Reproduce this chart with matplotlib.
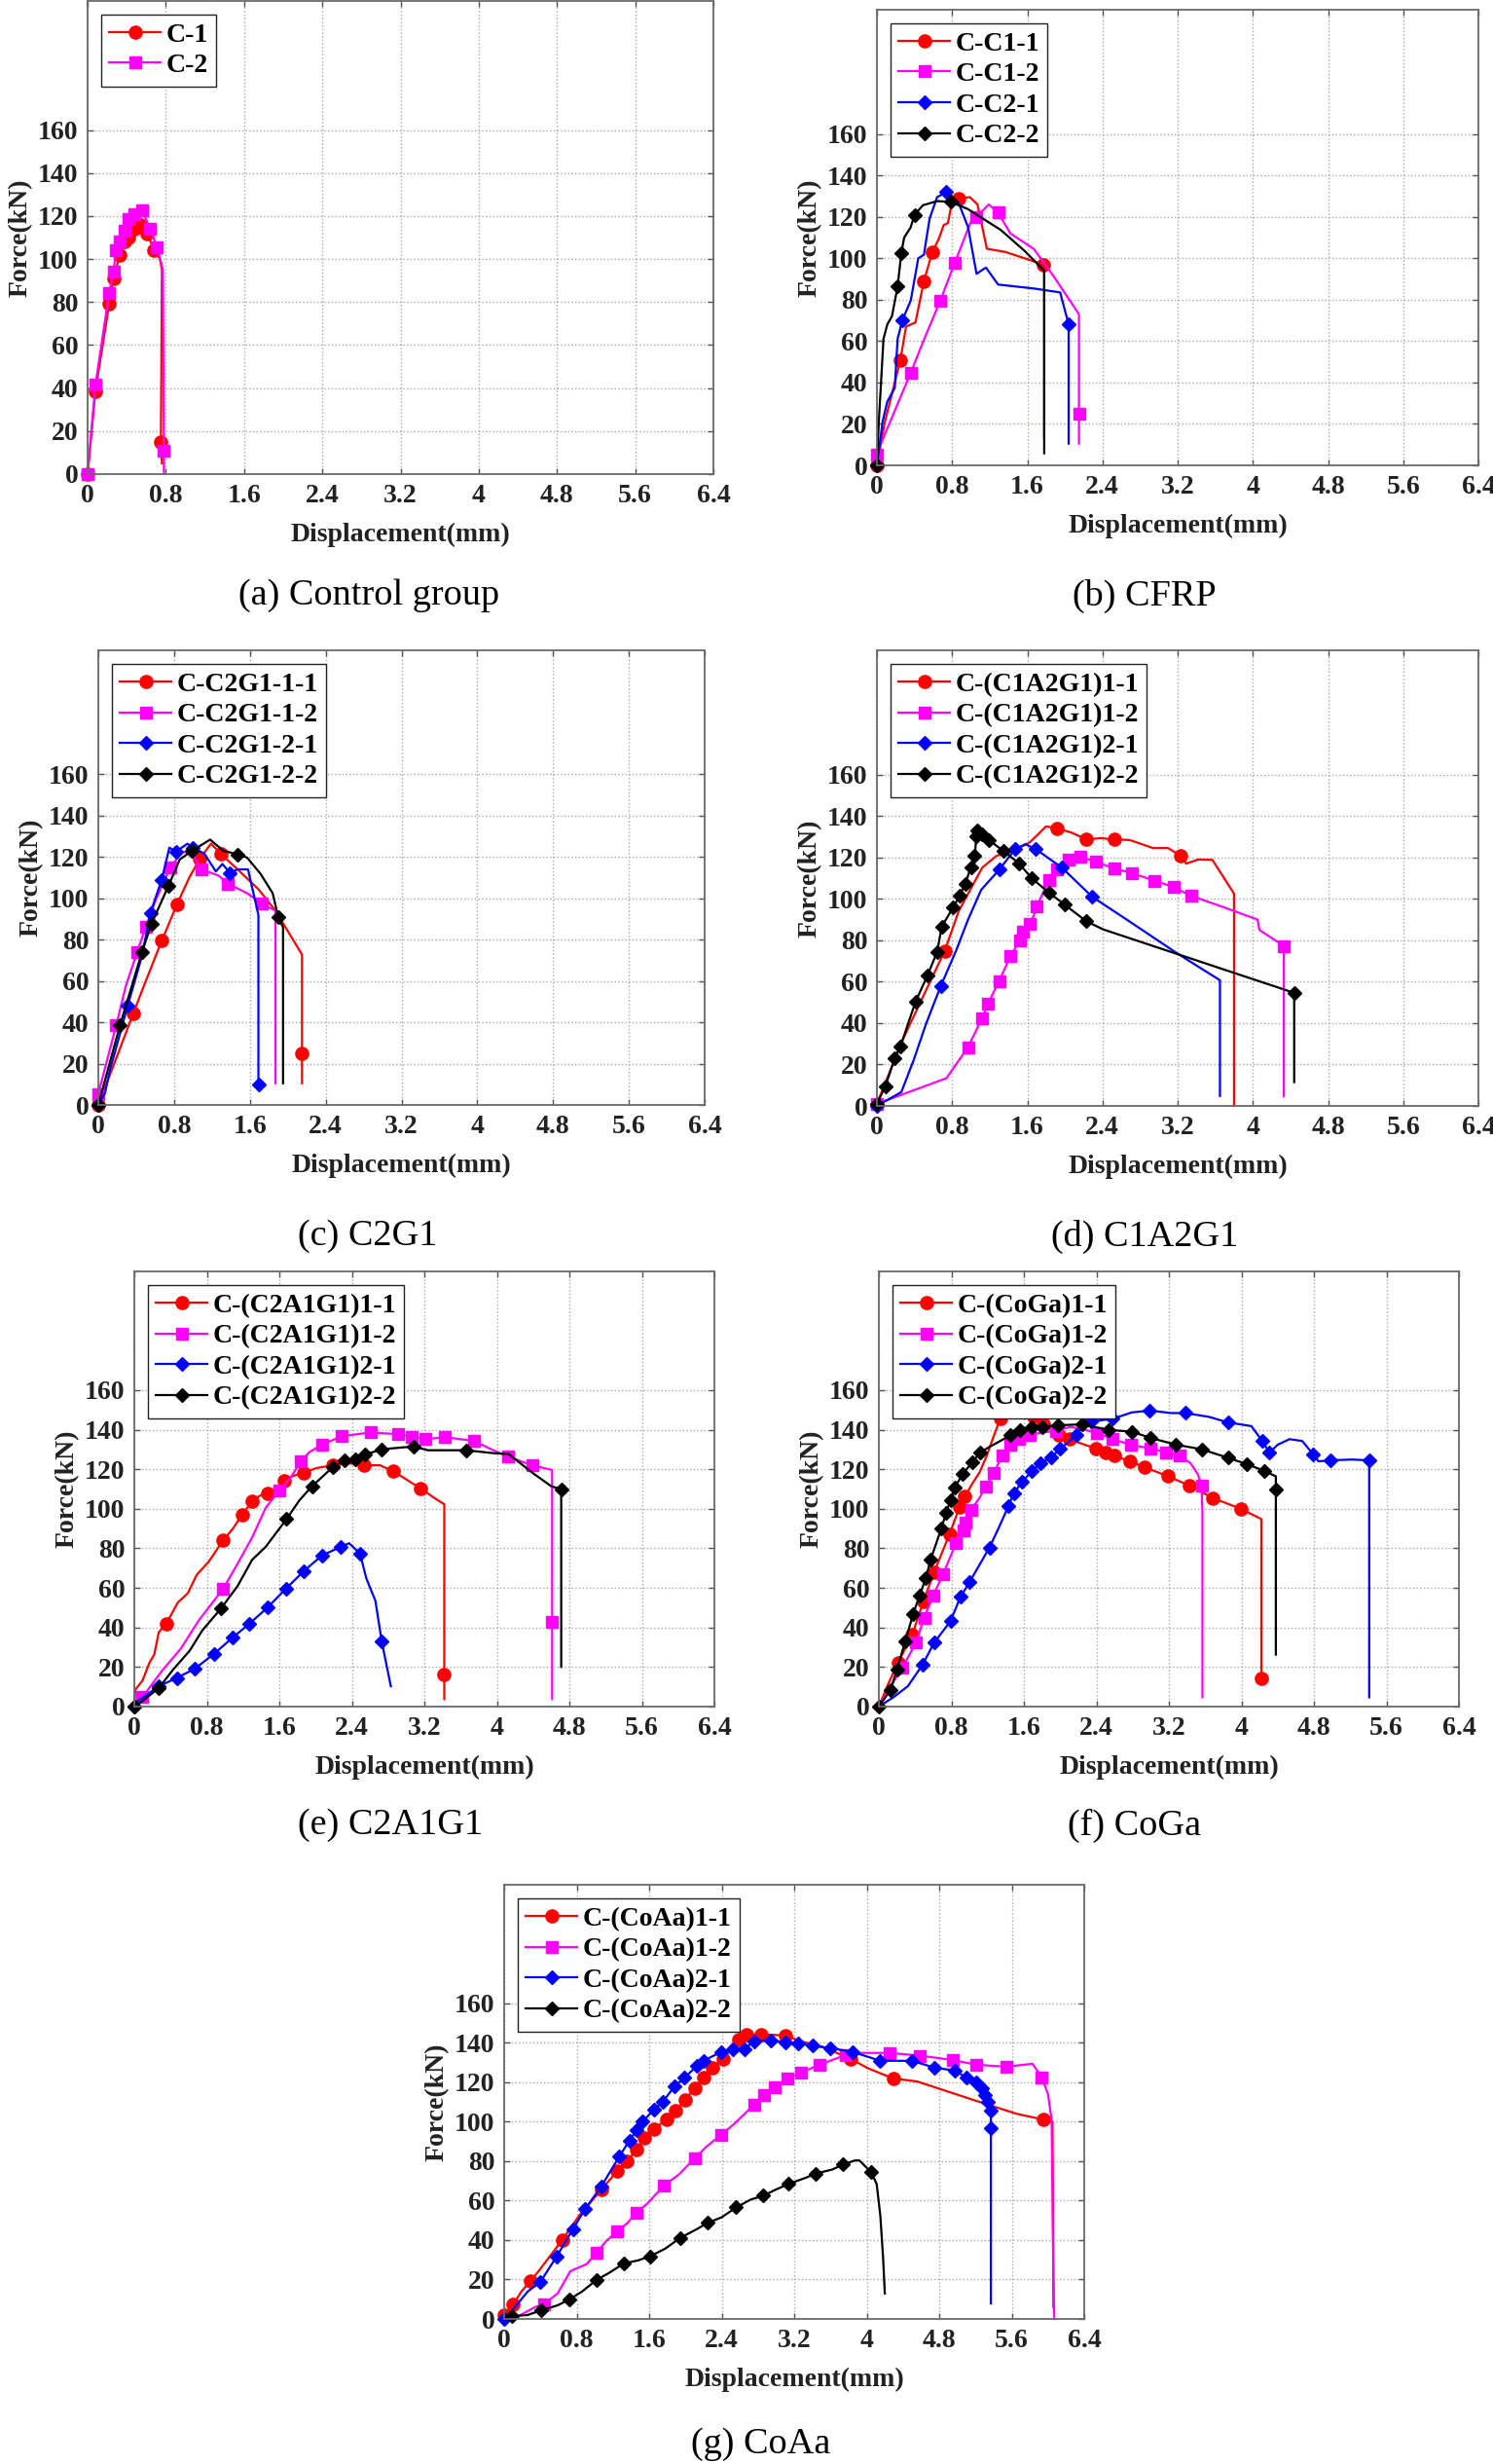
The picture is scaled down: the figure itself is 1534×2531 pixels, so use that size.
import numpy as np
import matplotlib.pyplot as plt

plt.rcParams['font.family'] = ['Liberation Serif', 'DejaVu Serif']
plt.rcParams['font.weight'] = 'bold'
plt.rcParams['axes.labelweight'] = 'bold'

# ---------------- data (displacement mm, force kN) ----------------
# (a) control group
a1_x = [0, 0.08, 0.22, 0.265, 0.33, 0.38, 0.42, 0.48, 0.54, 0.61, 0.68, 0.74, 0.76, 0.75, 0.76]
a1_y = [0, 38.7, 79, 91, 102, 108, 110, 114, 116, 112, 104, 100, 95, 15, 5]
a1_m = [0, 1, 2, 3, 4, 5, 6, 7, 8, 9, 10, 13]
a2_x = [0, 0.08, 0.22, 0.265, 0.29, 0.33, 0.38, 0.42, 0.48, 0.56, 0.64, 0.71, 0.77, 0.78, 0.78]
a2_y = [0, 41.5, 84, 94, 104, 108, 113, 118.5, 121, 122.5, 114, 105.6, 95, 10.7, 0]
a2_m = [0, 1, 2, 3, 4, 5, 6, 7, 8, 9, 10, 11, 13]

# (b) CFRP
b1_x = [0, 0.085, 0.19, 0.25, 0.31, 0.41, 0.5, 0.59, 0.66, 0.71, 0.755, 0.79, 0.87, 0.99, 1.07, 1.17, 1.37, 1.57, 1.77, 1.78, 1.78]
b1_y = [0, 21, 40, 51, 67, 69, 89, 103, 109.5, 116, 117, 125, 129, 129.5, 126, 104.6, 103, 100, 97, 94, 13.4]
b1_m = [0, 3, 6, 7, 12, 18]
b2_x = [0, 0.02, 0.36, 0.49, 0.675, 0.83, 1.02, 1.06, 1.19, 1.29, 1.42, 1.67, 1.87, 2.15, 2.15, 2.15]
b2_y = [5, 8, 44.7, 59.5, 79.6, 98, 120, 120, 126, 122, 112, 104.5, 92, 73, 25, 10.5]
b2_m = [0, 2, 4, 5, 7, 9, 14]
b3_x = [0, 0.06, 0.11, 0.19, 0.22, 0.27, 0.36, 0.44, 0.5, 0.56, 0.64, 0.74, 0.87, 0.97, 1.06, 1.16, 1.29, 1.67, 1.95, 2.04, 2.04]
b3_y = [0, 21, 30.7, 37.4, 61, 70, 79.6, 100, 101.7, 119, 129.5, 132, 126.6, 115, 92.5, 95.5, 87.3, 85.4, 83.5, 68, 10.5]
b3_m = [0, 5, 11, 19]
b4_x = [0, 0.02, 0.07, 0.11, 0.16, 0.22, 0.26, 0.29, 0.36, 0.40, 0.49, 0.64, 0.79, 0.97, 1.07, 1.32, 1.57, 1.78, 1.78]
b4_y = [0, 21, 61, 68, 72, 86.3, 102.6, 110, 115, 121, 125.6, 127.6, 127.2, 123.7, 120.8, 113.6, 103.6, 94, 5.8]
b4_m = [0, 5, 6, 9, 12]

# (c) C2G1
c1_x = [0, 0.16, 0.37, 0.51, 0.67, 0.83, 0.96, 1.07, 1.19, 1.29, 1.47, 1.69, 1.87, 2.15, 2.15, 2.15]
c1_y = [0, 19, 44.4, 61, 79.5, 97, 110, 119, 126.5, 121.6, 114, 104.4, 94, 72.8, 25, 10.5]
c1_m = [0, 2, 4, 5, 7, 9, 14]
c2_x = [0, 0.19, 0.29, 0.41, 0.5, 0.61, 0.76, 0.89, 0.99, 1.09, 1.27, 1.37, 1.57, 1.73, 1.87, 1.87]
c2_y = [5.4, 38.7, 57.5, 74, 86, 99.6, 115, 122.6, 121.6, 114, 111, 107, 102.5, 97.3, 94, 10.5]
c2_m = [0, 1, 3, 4, 6, 9, 11, 13]
c3_x = [0, 0.07, 0.12, 0.31, 0.46, 0.55, 0.67, 0.75, 0.82, 0.94, 1.0, 1.12, 1.24, 1.31, 1.39, 1.47, 1.58, 1.69, 1.69]
c3_y = [0, 5.7, 16.3, 48, 72, 93, 109, 124.5, 122.6, 126.4, 124.5, 121.6, 113, 116.6, 112.3, 114, 114, 92, 10]
c3_m = [0, 3, 5, 6, 8, 10, 14, 18]
c4_x = [0, 0.23, 0.46, 0.56, 0.74, 0.86, 0.99, 1.18, 1.32, 1.47, 1.57, 1.71, 1.84, 1.9, 1.95, 1.95]
c4_y = [0, 38.7, 73.8, 87.5, 106, 118.8, 123, 128.4, 123, 121.3, 119.7, 112, 102.5, 90.8, 86, 10.5]
c4_m = [0, 1, 2, 3, 4, 6, 9, 13]

# (d) C1A2G1
d1_x = [0, 0.11, 0.26, 0.52, 0.72, 0.87, 1.0, 1.12, 1.27, 1.47, 1.63, 1.8, 1.92, 2.07, 2.23, 2.38, 2.53, 2.69, 2.94, 3.1, 3.23, 3.29, 3.42, 3.57, 3.8, 3.8]
d1_y = [1, 13.4, 30.6, 55.6, 74.7, 94, 105, 115, 120.7, 123.5, 127.4, 135, 134, 132, 128.7, 129.3, 128.7, 128.4, 124.5, 124.5, 120.7, 117, 119, 118.8, 102.5, 0]
d1_m = [4, 12, 14, 16, 20]
d2_x = [0, 0.74, 0.97, 1.12, 1.18, 1.3, 1.42, 1.52, 1.55, 1.63, 1.67, 1.7, 1.83, 1.92, 2.04, 2.16, 2.33, 2.53, 2.71, 2.95, 3.16, 3.34, 3.7, 4.05, 4.07, 4.33, 4.33]
d2_y = [1, 13.4, 28.4, 42.5, 49.2, 60.3, 72.2, 79.9, 84.3, 88.1, 92, 96.2, 109.2, 114, 118.8, 120.3, 117.8, 114.6, 112.5, 108.8, 105.7, 101.5, 95.8, 90, 85, 77.2, 4.8]
d2_m = [0, 2, 3, 4, 5, 6, 7, 8, 9, 11, 12, 13, 14, 15, 16, 17, 18, 19, 20, 21, 25]
d3_x = [0, 0.26, 0.39, 0.52, 0.68, 0.84, 0.97, 1.11, 1.3, 1.47, 1.58, 1.69, 1.97, 2.29, 2.69, 3.19, 3.65, 3.65]
d3_y = [0, 6.7, 22, 39.3, 58, 74.7, 90, 104.4, 114, 124, 126.4, 124, 115, 101, 89, 73.8, 60.7, 4.8]
d3_m = [0, 4, 8, 9, 11, 12, 13]
d4_x = [0, 0.09, 0.19, 0.25, 0.41, 0.54, 0.64, 0.69, 0.81, 0.88, 0.94, 1.0, 1.04, 1.06, 1.07, 1.12, 1.19, 1.35, 1.51, 1.65, 1.83, 2.0, 2.23, 2.41, 4.44, 4.44]
d4_y = [1, 9.6, 23, 28.7, 50.2, 63.2, 74.3, 86.6, 95.8, 101.5, 107.3, 115.3, 120.7, 130.3, 133.1, 131.2, 128.4, 123, 117.2, 109.8, 103, 97.1, 89.1, 85.2, 54.6, 11.5]
d4_m = list(range(23)) + [24]

# (e) C2A1G1
e1_x = [0, 0.01, 0.09, 0.17, 0.22, 0.27, 0.35, 0.48, 0.59, 0.69, 0.82, 0.98, 1.09, 1.19, 1.3, 1.38, 1.47, 1.57, 1.65, 1.74, 1.87, 2.01, 2.19, 2.37, 2.53, 2.71, 2.86, 3.03, 3.16, 3.32, 3.42, 3.42, 3.42]
e1_y = [0, 8.5, 13.1, 22.5, 26.3, 37.6, 41.7, 52.6, 57.3, 66.7, 73.2, 84.1, 90.1, 97.1, 103.7, 106.5, 108, 110.8, 114.2, 116.4, 118.3, 120.6, 122, 123, 122, 122, 118.9, 114, 110.2, 105.2, 102.3, 16, 3.8]
e1_m = [6, 11, 13, 14, 16, 18, 20, 22, 24, 26, 28, 31]
e2_x = [0, 0.09, 0.3, 0.51, 0.72, 0.98, 1.14, 1.3, 1.45, 1.6, 1.72, 1.84, 1.93, 2.07, 2.29, 2.61, 2.91, 3.06, 3.21, 3.43, 3.75, 3.92, 4.12, 4.39, 4.61, 4.61, 4.61]
e2_y = [0, 4.7, 17.8, 29.1, 44.1, 59.5, 72.3, 85.5, 100.5, 109.3, 115.5, 124, 128.6, 132.4, 136.7, 138.6, 137.7, 136.5, 135.2, 136.2, 134.3, 130.5, 126.4, 122, 119.6, 42.6, 3.8]
e2_m = [1, 5, 9, 11, 13, 14, 15, 16, 17, 18, 19, 20, 22, 23, 25]
e3_x = [0, 0.04, 0.27, 0.47, 0.67, 0.88, 1.08, 1.27, 1.47, 1.67, 1.87, 2.07, 2.28, 2.37, 2.49, 2.56, 2.66, 2.73, 2.83]
e3_y = [0, 2.8, 10.3, 14.5, 19.2, 26.7, 34.7, 41.9, 50.1, 59.5, 68.5, 76.4, 80.8, 82.6, 77.4, 64.8, 53.5, 32.9, 10.3]
e3_m = [0, 2, 3, 4, 5, 6, 7, 8, 9, 10, 11, 12, 14, 17]
e4_x = [0, 0.09, 0.27, 0.43, 0.61, 0.75, 0.96, 1.14, 1.3, 1.45, 1.68, 1.82, 1.96, 2.08, 2.19, 2.32, 2.44, 2.54, 2.73, 3.08, 3.24, 3.66, 3.97, 4.13, 4.39, 4.6, 4.71, 4.71]
e4_y = [0, 2.8, 9.4, 18.8, 28.2, 38.5, 49.8, 61, 74.2, 80.8, 94.8, 104.2, 111.4, 116.4, 121.1, 124.5, 124.9, 127.3, 130.1, 131.5, 129.6, 129.6, 128.1, 127.7, 118.3, 111.4, 109.9, 20.1]
e4_m = [0, 2, 6, 10, 12, 14, 15, 16, 17, 18, 19, 21, 26]

# (f) CoGa
f1_x = [0, 0.11, 0.21, 0.37, 0.49, 0.61, 0.78, 0.89, 0.95, 1.03, 1.11, 1.19, 1.27, 1.34, 1.45, 1.53, 1.63, 1.71, 1.82, 1.99, 2.1, 2.27, 2.39, 2.5, 2.6, 2.77, 2.93, 3.19, 3.43, 3.68, 3.99, 4.22, 4.22]
f1_y = [0, 12.2, 22, 36.6, 53, 68, 87.3, 100.8, 106.1, 112.7, 118.3, 126.8, 137.1, 145.5, 148.7, 149.3, 148.9, 146.5, 142.7, 137.5, 135.2, 132.4, 130.5, 128.6, 126.8, 124, 121.1, 116.4, 111.7, 105.5, 100.1, 94.8, 14.5]
f1_m = [2, 3, 4, 5, 6, 7, 8, 13, 15, 17, 18, 19, 20, 22, 23, 24, 25, 26, 27, 28, 29, 30, 32]
f2_x = [0, 0.13, 0.26, 0.41, 0.5, 0.6, 0.71, 0.85, 0.93, 0.96, 1.02, 1.11, 1.18, 1.27, 1.36, 1.45, 1.55, 1.66, 1.79, 1.95, 2.12, 2.27, 2.41, 2.58, 2.78, 3.0, 3.17, 3.32, 3.44, 3.52, 3.56, 3.57, 3.57]
f2_y = [0, 10.3, 19.7, 32.3, 45, 56.3, 67, 82.6, 89.2, 93, 99.5, 105.5, 111.2, 118.3, 126.8, 132.4, 135.2, 137.5, 138.4, 139.5, 141.4, 139.9, 138.4, 135.2, 132.4, 130.5, 128.6, 126.8, 123, 117.4, 111.7, 98.6, 4.7]
f2_m = [2, 3, 4, 5, 6, 7, 8, 9, 10, 12, 13, 14, 15, 16, 17, 19, 22, 23, 24, 25, 26, 27, 30]
f3_x = [0, 0.16, 0.32, 0.48, 0.61, 0.79, 0.9, 1.0, 1.22, 1.32, 1.43, 1.49, 1.58, 1.69, 1.78, 1.9, 2.0, 2.08, 2.18, 2.27, 2.34, 2.58, 2.79, 2.99, 3.22, 3.38, 3.64, 3.85, 4.11, 4.23, 4.31, 4.4, 4.53, 4.67, 4.79, 4.85, 4.98, 5.22, 5.41, 5.41]
f3_y = [0, 4.7, 10.3, 21, 32.3, 43.2, 55.4, 62.9, 80.4, 90.1, 101.4, 108, 113.6, 119.2, 123, 125.8, 130.5, 133.3, 137.5, 142.7, 144, 145.5, 148.7, 149.7, 148.4, 148.4, 146.5, 143.7, 141.8, 134.3, 128.3, 132.4, 135.2, 134.3, 127.7, 124, 124.5, 124.9, 124.5, 4.7]
f3_m = [3, 4, 5, 6, 7, 8, 10, 11, 12, 13, 14, 15, 16, 18, 20, 21, 23, 25, 27, 29, 30, 34, 36, 38]
f4_x = [0, 0.13, 0.2, 0.29, 0.38, 0.45, 0.52, 0.57, 0.69, 0.74, 0.79, 0.84, 0.92, 1.03, 1.12, 1.24, 1.34, 1.45, 1.56, 1.69, 1.8, 1.98, 2.24, 2.53, 2.79, 3.0, 3.28, 3.56, 3.85, 4.06, 4.25, 4.38, 4.38, 4.38]
f4_y = [0, 8.5, 18.8, 32.9, 47, 56.3, 65.2, 74.2, 90.1, 97.7, 104.2, 110.8, 117.4, 123.4, 128.6, 131.8, 134.3, 137.1, 139.9, 141.4, 141.4, 142.2, 142.7, 139.9, 139, 135.8, 132.4, 130.1, 125.8, 122.6, 119.2, 116.4, 109.9, 26.3]
f4_m = list(range(15)) + list(range(17, 31)) + [32]

# (g) CoAa
g1_x = [0, 0.1, 0.19, 0.29, 0.39, 0.64, 0.83, 1.07, 1.25, 1.35, 1.46, 1.55, 1.65, 1.79, 1.89, 2.0, 2.1, 2.2, 2.3, 2.42, 2.49, 2.59, 2.67, 2.84, 3.1, 3.27, 3.52, 3.67, 3.82, 4.02, 4.29, 4.56, 4.91, 5.31, 5.65, 5.95, 6.05, 6.06]
g1_y = [2, 7.3, 13.9, 19.2, 24.8, 40, 52.5, 65.4, 75, 79.7, 85.6, 91.6, 96.1, 101.1, 105.4, 111, 117, 122.3, 127.3, 131.8, 137.8, 141.7, 144.1, 144.1, 143.7, 140.7, 137.8, 134.8, 131.8, 126.9, 121.9, 120.3, 115, 109, 104, 101, 100, 6]
g1_m = [0, 1, 3, 5, 7, 8, 9, 10, 11, 12, 13, 14, 15, 16, 17, 18, 19, 21, 22, 23, 24, 28, 30, 35]
g2_x = [0, 0.14, 0.34, 0.44, 0.59, 0.73, 0.91, 1.02, 1.13, 1.25, 1.36, 1.46, 1.58, 1.76, 1.93, 2.1, 2.23, 2.39, 2.52, 2.76, 2.87, 2.98, 3.12, 3.28, 3.48, 3.77, 3.92, 4.25, 4.59, 4.95, 5.21, 5.54, 5.83, 5.93, 6.0, 6.04, 6.06, 6.07]
g2_y = [0, 1, 6, 7.5, 12.9, 24.2, 27.8, 33.7, 39.6, 44.6, 48.6, 53.9, 58.5, 67.4, 73.3, 81.3, 87.2, 93.2, 98.1, 108.6, 113.4, 117.3, 121.9, 124.9, 128.8, 133.8, 134.8, 134.8, 133.4, 131.2, 128.8, 127.8, 129.3, 122.5, 114, 101, 23.8, 0]
g2_m = [3, 7, 9, 11, 13, 15, 17, 19, 20, 21, 22, 23, 24, 25, 27, 28, 29, 30, 31, 33]
g3_x = [0, 0.09, 0.26, 0.4, 0.58, 0.76, 0.89, 1.07, 1.27, 1.38, 1.46, 1.53, 1.65, 1.75, 1.88, 1.99, 2.13, 2.2, 2.39, 2.52, 2.65, 2.76, 2.94, 3.1, 3.24, 3.4, 3.6, 3.84, 4.15, 4.5, 4.75, 4.97, 5.1, 5.21, 5.27, 5.31, 5.34, 5.37, 5.37, 5.37]
g3_y = [0, 4.4, 13.9, 18.8, 31.7, 45.6, 55.5, 67, 82.3, 90.2, 95.5, 100.1, 106, 110, 117.9, 122.3, 128.3, 130.8, 135.2, 136.8, 136.8, 140.7, 141.3, 140.1, 139.7, 138.4, 137.2, 135.4, 130.8, 130.8, 127.3, 125.9, 122.3, 119.9, 117, 113.4, 110, 105.4, 96.7, 7.9]
g3_m = [0] + list(range(3, 39))
g4_x = [0, 0.09, 0.26, 0.41, 0.59, 0.72, 0.86, 1.02, 1.16, 1.32, 1.48, 1.61, 1.78, 1.94, 2.13, 2.24, 2.4, 2.56, 2.72, 2.86, 2.99, 3.14, 3.32, 3.44, 3.62, 3.74, 3.87, 3.92, 4.05, 4.11, 4.15, 4.18, 4.2]
g4_y = [0, 1.4, 2, 4.4, 6.9, 9.9, 13.9, 19.8, 23.4, 28.1, 29.7, 31.7, 35.7, 41, 45.6, 48.6, 51.5, 56.5, 60.5, 62.4, 65.4, 68.4, 71.4, 73.7, 75.7, 78.3, 80.3, 80.3, 74.3, 68.4, 52.5, 31.7, 12.9]
g4_m = [1, 3, 5, 7, 9, 11, 13, 15, 17, 19, 21, 23, 25, 28]

x_ticks = [0, 0.8, 1.6, 2.4, 3.2, 4, 4.8, 5.6, 6.4]
x_tick_labels = ['0', '0.8', '1.6', '2.4', '3.2', '4', '4.8', '5.6', '6.4']
y_ticks = [0, 20, 40, 60, 80, 100, 120, 140, 160]

colors = ['#ff0000', '#ff00ff', '#0000ff', '#000000']
markers = ['o', 's', 'D', 'D']
msizes = [9.5, 8, 6.8, 6.8]

W, H = 1534, 2531
fig = plt.figure(figsize=(W / 100, H / 100), dpi=100)


def panel(box, series, names, caption, cap_xy):
    l, t, r, b = box
    w, h = r - l, b - t
    ax = fig.add_axes([l / W, 1 - b / H, w / W, h / H])
    for i, (x, y, m) in enumerate(series):
        ax.plot(x, y, color=colors[i], lw=1.6, marker=markers[i], ms=msizes[i],
                markevery=m, mec=colors[i], mfc=colors[i], clip_on=False,
                label=names[i])
    ax.set_xlim(0, 6.4)
    ax.set_ylim(0, 220)
    ax.set_xticks(x_ticks)
    ax.set_xticklabels(x_tick_labels)
    ax.set_yticks(y_ticks)
    ax.grid(True, ls=':', color='#a8a8a8', lw=1.0)
    ax.tick_params(direction='in', length=4, width=1, colors='#555555',
                   labelcolor='#222222', labelsize=20, pad=7,
                   top=True, right=True)
    for s in ax.spines.values():
        s.set_color('#6a6a6a')
        s.set_linewidth(1.3)
    ax.set_xlabel('Displacement(mm)', fontsize=20, color='#222222')
    ax.set_ylabel('Force(kN)', fontsize=20, color='#222222')
    ax.xaxis.set_label_coords(0.5, -62 / h)
    ax.xaxis.label.set_va('center')
    ax.yaxis.set_label_coords(-69 / w, 0.5)
    ax.yaxis.label.set_va('center')
    leg = ax.legend(loc='upper left', fontsize=20, frameon=True, fancybox=False,
                    framealpha=1, edgecolor='#222222', borderpad=0.3,
                    labelspacing=0.22, handlelength=1.9, handletextpad=0.2,
                    borderaxespad=0.5)
    leg.get_frame().set_linewidth(1.0)
    fig.text(cap_xy[0] / W, 1 - cap_xy[1] / H, caption, fontsize=27.5,
             fontweight='normal', ha='center', va='center')
    return ax


panel((90, 1, 733, 487), [(a1_x, a1_y, a1_m), (a2_x, a2_y, a2_m)],
      ['C-1', 'C-2'], '(a) Control group', (379, 612))
panel((901, 10, 1519, 478),
      [(b1_x, b1_y, b1_m), (b2_x, b2_y, b2_m), (b3_x, b3_y, b3_m), (b4_x, b4_y, b4_m)],
      ['C-C1-1', 'C-C1-2', 'C-C2-1', 'C-C2-2'], '(b) CFRP', (1176, 612))
panel((101, 668, 724, 1135),
      [(c1_x, c1_y, c1_m), (c2_x, c2_y, c2_m), (c3_x, c3_y, c3_m), (c4_x, c4_y, c4_m)],
      ['C-C2G1-1-1', 'C-C2G1-1-2', 'C-C2G1-2-1', 'C-C2G1-2-2'], '(c) C2G1', (378, 1270))
panel((901, 668, 1519, 1136),
      [(d1_x, d1_y, d1_m), (d2_x, d2_y, d2_m), (d3_x, d3_y, d3_m), (d4_x, d4_y, d4_m)],
      ['C-(C1A2G1)1-1', 'C-(C1A2G1)1-2', 'C-(C1A2G1)2-1', 'C-(C1A2G1)2-2'],
      '(d) C1A2G1', (1176, 1270))
panel((138, 1306, 734, 1753),
      [(e1_x, e1_y, e1_m), (e2_x, e2_y, e2_m), (e3_x, e3_y, e3_m), (e4_x, e4_y, e4_m)],
      ['C-(C2A1G1)1-1', 'C-(C2A1G1)1-2', 'C-(C2A1G1)2-1', 'C-(C2A1G1)2-2'],
      '(e) C2A1G1', (401, 1875))
panel((903, 1306, 1499, 1753),
      [(f1_x, f1_y, f1_m), (f2_x, f2_y, f2_m), (f3_x, f3_y, f3_m), (f4_x, f4_y, f4_m)],
      ['C-(CoGa)1-1', 'C-(CoGa)1-2', 'C-(CoGa)2-1', 'C-(CoGa)2-2'],
      '(f) CoGa', (1166, 1875))
panel((518, 1936, 1114, 2382),
      [(g1_x, g1_y, g1_m), (g2_x, g2_y, g2_m), (g3_x, g3_y, g3_m), (g4_x, g4_y, g4_m)],
      ['C-(CoAa)1-1', 'C-(CoAa)1-2', 'C-(CoAa)2-1', 'C-(CoAa)2-2'],
      '(g) CoAa', (782, 2511))

fig.savefig('out.png', dpi=100)
